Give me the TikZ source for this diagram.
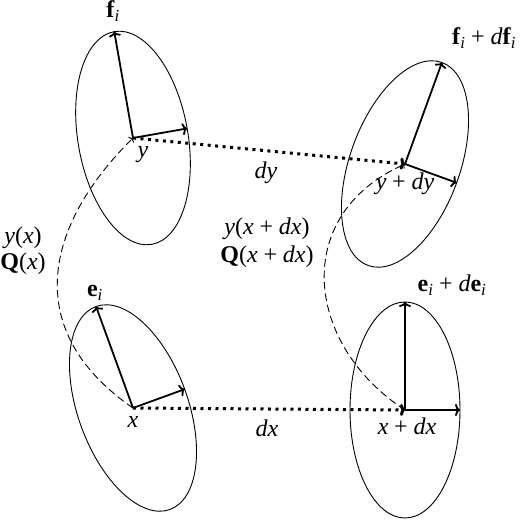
\documentclass[tikz,border=0pt]{standalone}
\usepackage{fontspec}
\setmainfont{Liberation Serif}
\usetikzlibrary{arrows.meta}
\newcommand{\vf}{\textbf{f}\textsubscript{\textit{i}}}
\newcommand{\ve}{\textbf{e}\textsubscript{\textit{i}}}
\newcommand{\pls}{\hspace{0.24em}+\hspace{0.24em}}
\newcommand{\mv}[1]{\textit{#1}}
\tikzset{
  ell/.style={line width=0.9pt},
  framevec/.style={line width=1.8pt,-{To[length=5pt,width=12pt]}},
  dotarrow/.style={line width=3pt,dash pattern=on 3pt off 4.5pt,-{To[length=5pt,width=12pt]}},
  dashpath/.style={line width=0.9pt,black,dash pattern=on 7.5pt off 4pt,-{To[length=3pt,width=8pt]}},
  lbl/.style={inner sep=0pt,anchor=base,font=\fontsize{24}{28}\selectfont},
}
\begin{document}
\begin{tikzpicture}[x=1pt,y=1pt]
\useasboundingbox (0,0) rectangle (520,520);
% origins
\coordinate (oy) at (133,382);
\coordinate (ox) at (133,112);
\coordinate (oxd) at (405,110);
\coordinate (oyd) at (405,356);
% top-left ellipse
\begin{scope}[shift={(oy)},rotate=10]
  \draw[ell] (0,0) ellipse [x radius=55pt,y radius=108pt];
  \coordinate (f1) at (55,0);
  \coordinate (f2) at (0,108);
\end{scope}
% bottom-left ellipse
\begin{scope}[shift={(ox)},rotate=20]
  \draw[ell] (0,0) ellipse [x radius=55pt,y radius=108pt];
  \coordinate (e1) at (55,0);
  \coordinate (e2) at (0,108);
\end{scope}
% bottom-right ellipse
\begin{scope}[shift={(oxd)}]
  \draw[ell] (0,0) ellipse [x radius=55pt,y radius=108pt];
  \coordinate (g1) at (55,0);
  \coordinate (g2) at (0,108);
\end{scope}
% top-right ellipse
\begin{scope}[shift={(oyd)},rotate=-20]
  \draw[ell] (0,0) ellipse [x radius=55pt,y radius=108pt];
  \coordinate (h1) at (55,0);
  \coordinate (h2) at (0,108);
\end{scope}
% dashed paths
\draw[dashpath] (ox) .. controls (20,190) and (45,295) .. (oy);
\draw[dashpath] (oxd) .. controls (305,175) and (290,305) .. (oyd);
% dotted shifts
\draw[dotarrow] (oy) -- (oyd);
\draw[dotarrow] (ox) -- (oxd);
% frame vectors
\draw[framevec] (oy) -- (f1);
\draw[framevec] (oy) -- (f2);
\draw[framevec] (ox) -- (e1);
\draw[framevec] (ox) -- (e2);
\draw[framevec] (oxd) -- (g1);
\draw[framevec] (oxd) -- (g2);
\draw[framevec] (oyd) -- (h1);
\draw[framevec] (oyd) -- (h2);
% labels
\node[lbl] (lf) at (113,502) {\vf};
\node[lbl] (lfd) at (484,475) {\vf\pls\mv{d}\vf};
\node[lbl] (ly) at (143,362) {\mv{y}};
\node[lbl] (ldy) at (266,341) {\mv{dy}};
\node[lbl] (lyd) at (405,330) {\mv{y}\pls\mv{dy}};
\node[lbl,align=center] (lyx) at (23,250) {\mv{y}(\mv{x})\\[-2pt]\textbf{Q}(\mv{x})};
\node[lbl,align=center] (lyxd) at (267,257) {\mv{y}(\mv{x}\pls\mv{dx})\\[0pt]\textbf{Q}(\mv{x}\pls\mv{dx})};
\node[lbl] (le) at (95,223) {\ve};
\node[lbl] (lx) at (133,92) {\mv{x}};
\node[lbl] (ldx) at (267,83) {\mv{dx}};
\node[lbl] (lxd) at (407,85) {\mv{x}\pls\mv{dx}};
\node[lbl] (led) at (452,228) {\ve\pls\mv{d}\ve};
\end{tikzpicture}
\end{document}
